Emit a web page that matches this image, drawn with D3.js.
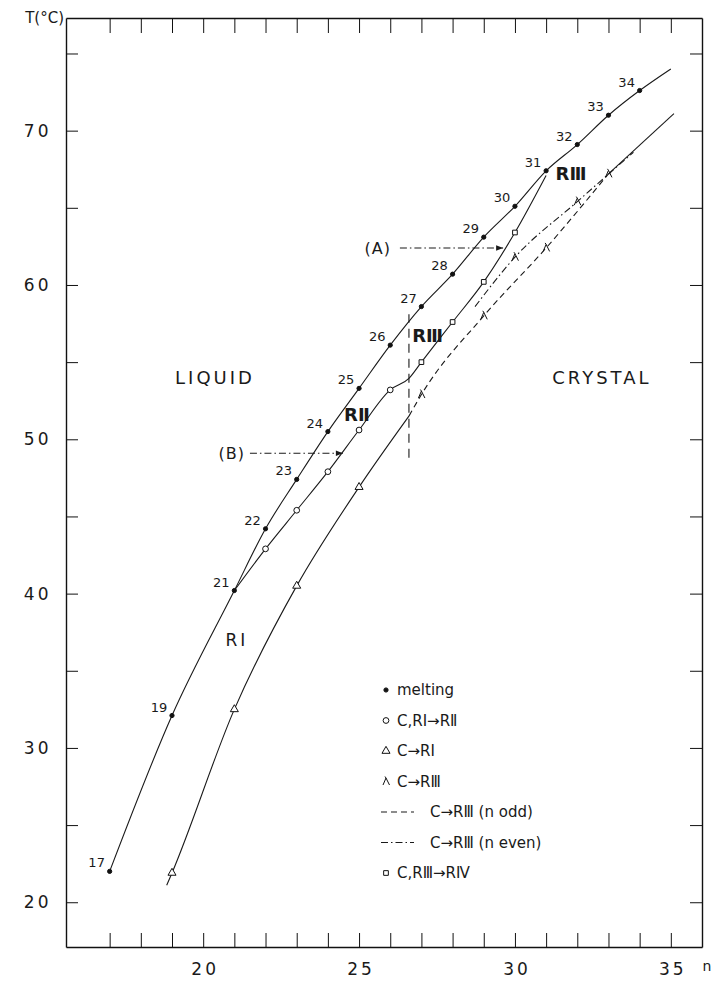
<!DOCTYPE html>
<html lang="en">
<head>
    <meta charset="UTF-8">
    <title>n-alkanes phase diagram</title>
    <script src="https://cdnjs.cloudflare.com/ajax/libs/d3/7.8.5/d3.min.js"></script>
    <style>
        body { margin: 0; background: white; }
        svg text { font-family: "DejaVu Sans", "Liberation Sans", sans-serif; fill: #1a1a1a; }
        .axis path, .axis line { stroke: #111; }
        .axis text { font-size: 17px; letter-spacing: 3px; }
        .curve { fill: none; stroke: #1a1a1a; stroke-width: 1.1; }
        .odd { stroke-dasharray: 6, 4; }
        .even { stroke-dasharray: 7, 3, 1.5, 3; }
        .lbl { font-size: 13px; }
        .legend text { font-size: 15px; }
    </style>
</head>
<body>
<div id="chart"></div>
<script>
    // melting points (filled dots)
    const meltN = [17, 19, 21, 22, 23, 24, 25, 26, 27, 28, 29, 30, 31, 32, 33, 34];
    const meltT = [22.0, 32.1, 40.2, 44.2, 47.4, 50.5, 53.3, 56.1, 58.6, 60.7, 63.1, 65.1, 67.4, 69.1, 71.0, 72.6];
    const meltEnd = [35, 74.0];

    // C,RI -> RII (open circles) and C,RIII -> RIV (squares), one solid curve from n=21 to n=31
    const circN = [22, 23, 24, 25, 26];
    const circT = [42.9, 45.4, 47.9, 50.6, 53.2];
    const sqN = [27, 28, 29, 30];
    const sqT = [55.0, 57.6, 60.2, 63.4];
    const midKink = [26.6, 53.95];
    const midEnd = [31, 67.1];

    // C -> RI (triangles), solid
    const triN = [19, 21, 23, 25];
    const triT = [21.9, 32.5, 40.5, 46.9];
    const triStart = [18.83, 21.1];
    const triEnd = [26.6, 51.5];

    // C -> RIII, n odd (dashed) and n even (dash-dot)
    const oddN = [27, 29, 31, 33];
    const oddT = [52.9, 58.0, 62.4, 67.2];
    const evenN = [30, 32];
    const evenT = [61.8, 65.4];
    const evenStart = [28.72, 58.6];
    const evenEnd = [33.8, 68.6];
    const topEnd = [35.1, 71.1];

    // boundary between RII and RIII regions
    const boundaryN = 26.6;
    const boundaryT = [48.8, 58.1];

    const xMajor = [20, 25, 30, 35];
    const xMinor = [17, 18, 19, 20, 21, 22, 23, 24, 25, 26, 27, 28, 29, 30, 31, 32, 33, 34, 35];
    const yMajor = [20, 30, 40, 50, 60, 70];
    const yMinor = [20, 25, 30, 35, 40, 45, 50, 55, 60, 65, 70, 75];

    const width = 718, height = 987;
    const plotL = 66, plotR = 702, plotT = 18, plotB = 947;

    const svg = d3.select('#chart').append('svg')
        .attr('width', width)
        .attr('height', height);

    const x = d3.scaleLinear().domain([15.6, 36.0]).range([plotL, plotR]);
    const y = d3.scaleLinear().domain([17.1, 77.3]).range([plotB, plotT]);

    svg.append('defs').append('marker')
        .attr('id', 'head')
        .attr('viewBox', '0 0 10 10')
        .attr('refX', 10).attr('refY', 5)
        .attr('markerWidth', 9).attr('markerHeight', 7)
        .attr('markerUnits', 'userSpaceOnUse')
        .attr('orient', 'auto')
        .append('path').attr('d', 'M0,1 L10,5 L0,9 Z').attr('fill', '#1a1a1a');

    // axes, ticks pointing inward
    const fmtY = d => yMajor.includes(d) ? d : '';
    svg.append('g').attr('class', 'axis')
        .attr('transform', `translate(${plotL},0)`)
        .call(d3.axisLeft(y).tickValues(yMinor).tickFormat(fmtY).tickSizeInner(-12).tickSizeOuter(0).tickPadding(16));
    svg.append('g').attr('class', 'axis')
        .attr('transform', `translate(${plotR},0)`)
        .call(d3.axisRight(y).tickValues(yMinor).tickFormat('').tickSizeInner(-12).tickSizeOuter(0));
    const fmtX = d => xMajor.includes(d) ? d : '';
    svg.append('g').attr('class', 'axis')
        .attr('transform', `translate(0,${plotB})`)
        .call(d3.axisBottom(x).tickValues(xMinor).tickFormat(fmtX).tickSizeInner(-14).tickSizeOuter(0).tickPadding(16));
    svg.append('g').attr('class', 'axis')
        .attr('transform', `translate(0,${plotT})`)
        .call(d3.axisTop(x).tickValues(xMinor).tickFormat('').tickSizeInner(-15).tickSizeOuter(0));
    svg.selectAll('.axis path.domain').attr('stroke-width', 1.4);
    svg.selectAll('.axis text').attr('dx', '1.5px');

    svg.append('text').attr('x', 64).attr('y', 23).attr('text-anchor', 'end')
        .style('font-size', '15px').text('T(°C)');
    svg.append('text').attr('x', 707).attr('y', 971).attr('text-anchor', 'middle')
        .style('font-size', '14px').text('n');

    const line = d3.line().x(d => x(d[0])).y(d => y(d[1])).curve(d3.curveMonotoneX);
    const zip = (a, b) => a.map((v, i) => [v, b[i]]);

    const meltPts = zip(meltN, meltT).concat([meltEnd]);
    const midPts = [[meltN[2], meltT[2]]].concat(zip(circN, circT), [midKink], zip(sqN, sqT), [midEnd]);
    const triPts = [triStart].concat(zip(triN, triT), [triEnd]);
    const oddPts = [triEnd].concat(zip(oddN, oddT));
    const evenPts = [evenStart].concat(zip(evenN, evenT), [evenEnd]);
    const topPts = [[oddN[3], oddT[3]], topEnd];

    svg.append('path').attr('class', 'curve').attr('d', line(meltPts));
    svg.append('path').attr('class', 'curve').attr('d', line(midPts));
    svg.append('path').attr('class', 'curve').attr('d', line(triPts));
    svg.append('path').attr('class', 'curve odd').attr('d', line(oddPts));
    svg.append('path').attr('class', 'curve even').attr('d', line(evenPts));
    svg.append('path').attr('class', 'curve').attr('d', line(topPts));

    svg.append('line').attr('class', 'curve')
        .attr('x1', x(boundaryN)).attr('x2', x(boundaryN))
        .attr('y1', y(boundaryT[0])).attr('y2', y(boundaryT[1]))
        .attr('stroke-width', 1.6).attr('stroke-dasharray', '9,6');

    // markers
    const caret = 'M-3,3.5 L0,-3.5 L3.5,3.5 M0,-3.5 L-1,-5';
    const sym = {
        dot: d3.symbol(d3.symbolCircle, 14)(),
        circle: d3.symbol(d3.symbolCircle, 26)(),
        tri: d3.symbol(d3.symbolTriangle, 28)(),
        square: d3.symbol(d3.symbolSquare, 22)(),
        caret: caret
    };
    function marks(pts, kind) {
        svg.append('g').selectAll('path').data(pts).join('path')
            .attr('transform', d => `translate(${x(d[0])},${y(d[1])})`)
            .attr('d', sym[kind])
            .attr('fill', kind === 'dot' ? '#111' : (kind === 'caret' ? 'none' : 'white'))
            .attr('stroke', '#111').attr('stroke-width', 1);
    }
    marks(zip(meltN, meltT), 'dot');
    marks(zip(circN, circT), 'circle');
    marks(zip(sqN, sqT), 'square');
    marks(zip(triN, triT), 'tri');
    marks(zip(oddN, oddT), 'caret');
    marks(zip(evenN, evenT), 'caret');

    svg.append('g').selectAll('text').data(meltN).join('text')
        .attr('class', 'lbl')
        .attr('x', (d, i) => x(d) - 13)
        .attr('y', (d, i) => y(meltT[i]) - 4)
        .attr('text-anchor', 'middle')
        .text(d => d);

    // region labels
    const regionLabels = [
        {t: 'LIQUID', n: 20.38, T: 53.6, size: 18, w: 'normal'},
        {t: 'CRYSTAL', n: 32.79, T: 53.6, size: 18, w: 'normal'},
        {t: 'RⅠ', n: 21.08, T: 36.6, size: 17, w: 'normal'},
        {t: 'RⅡ', n: 24.93, T: 51.2, size: 18, w: 'bold'},
        {t: 'RⅢ', n: 27.2, T: 56.3, size: 18, w: 'bold'},
        {t: 'RⅢ', n: 31.8, T: 66.8, size: 18, w: 'bold'}
    ];
    svg.append('g').selectAll('text').data(regionLabels).join('text')
        .attr('x', d => x(d.n)).attr('y', d => y(d.T))
        .attr('text-anchor', 'middle')
        .style('font-size', d => d.size + 'px')
        .style('font-weight', d => d.w)
        .style('letter-spacing', d => d.w === 'bold' ? '0px' : '3px')
        .text(d => d.t);

    // (A) and (B) pointers
    const pointers = [
        {t: '(A)', n: 25.6, n0: 26.31, n1: 29.62, T: 62.4},
        {t: '(B)', n: 20.92, n0: 21.5, n1: 24.48, T: 49.1}
    ];
    pointers.forEach(p => {
        svg.append('text').attr('x', x(p.n)).attr('y', y(p.T) + 6)
            .attr('text-anchor', 'middle').style('font-size', '16px')
            .style('letter-spacing', '1px').text(p.t);
        svg.append('line').attr('class', 'curve even')
            .attr('x1', x(p.n0)).attr('x2', x(p.n1))
            .attr('y1', y(p.T)).attr('y2', y(p.T))
            .attr('stroke-width', 0.9)
            .attr('marker-end', 'url(#head)');
    });

    // legend
    const legendItems = [
        {kind: 'dot', t: 'melting'},
        {kind: 'circle', t: 'C,RⅠ→RⅡ'},
        {kind: 'tri', t: 'C→RⅠ'},
        {kind: 'caret', t: 'C→RⅢ'},
        {kind: 'odd', t: 'C→RⅢ (n odd)'},
        {kind: 'even', t: 'C→RⅢ (n even)'},
        {kind: 'square', t: 'C,RⅢ→RⅣ'}
    ];
    const lg = svg.append('g').attr('class', 'legend');
    legendItems.forEach((d, i) => {
        const cy = 690 + i * 30.5;
        if (d.kind === 'odd' || d.kind === 'even') {
            lg.append('line').attr('class', 'curve ' + d.kind)
                .attr('x1', 381).attr('x2', 414).attr('y1', cy).attr('y2', cy);
            lg.append('text').attr('x', 430).attr('y', cy + 5).text(d.t);
        } else {
            lg.append('path').attr('transform', `translate(386,${cy})`)
                .attr('d', sym[d.kind])
                .attr('fill', d.kind === 'dot' ? '#111' : (d.kind === 'caret' ? 'none' : 'white'))
                .attr('stroke', '#111').attr('stroke-width', 1);
            lg.append('text').attr('x', 397).attr('y', cy + 5).text(d.t);
        }
    });
</script>
</body>
</html>
